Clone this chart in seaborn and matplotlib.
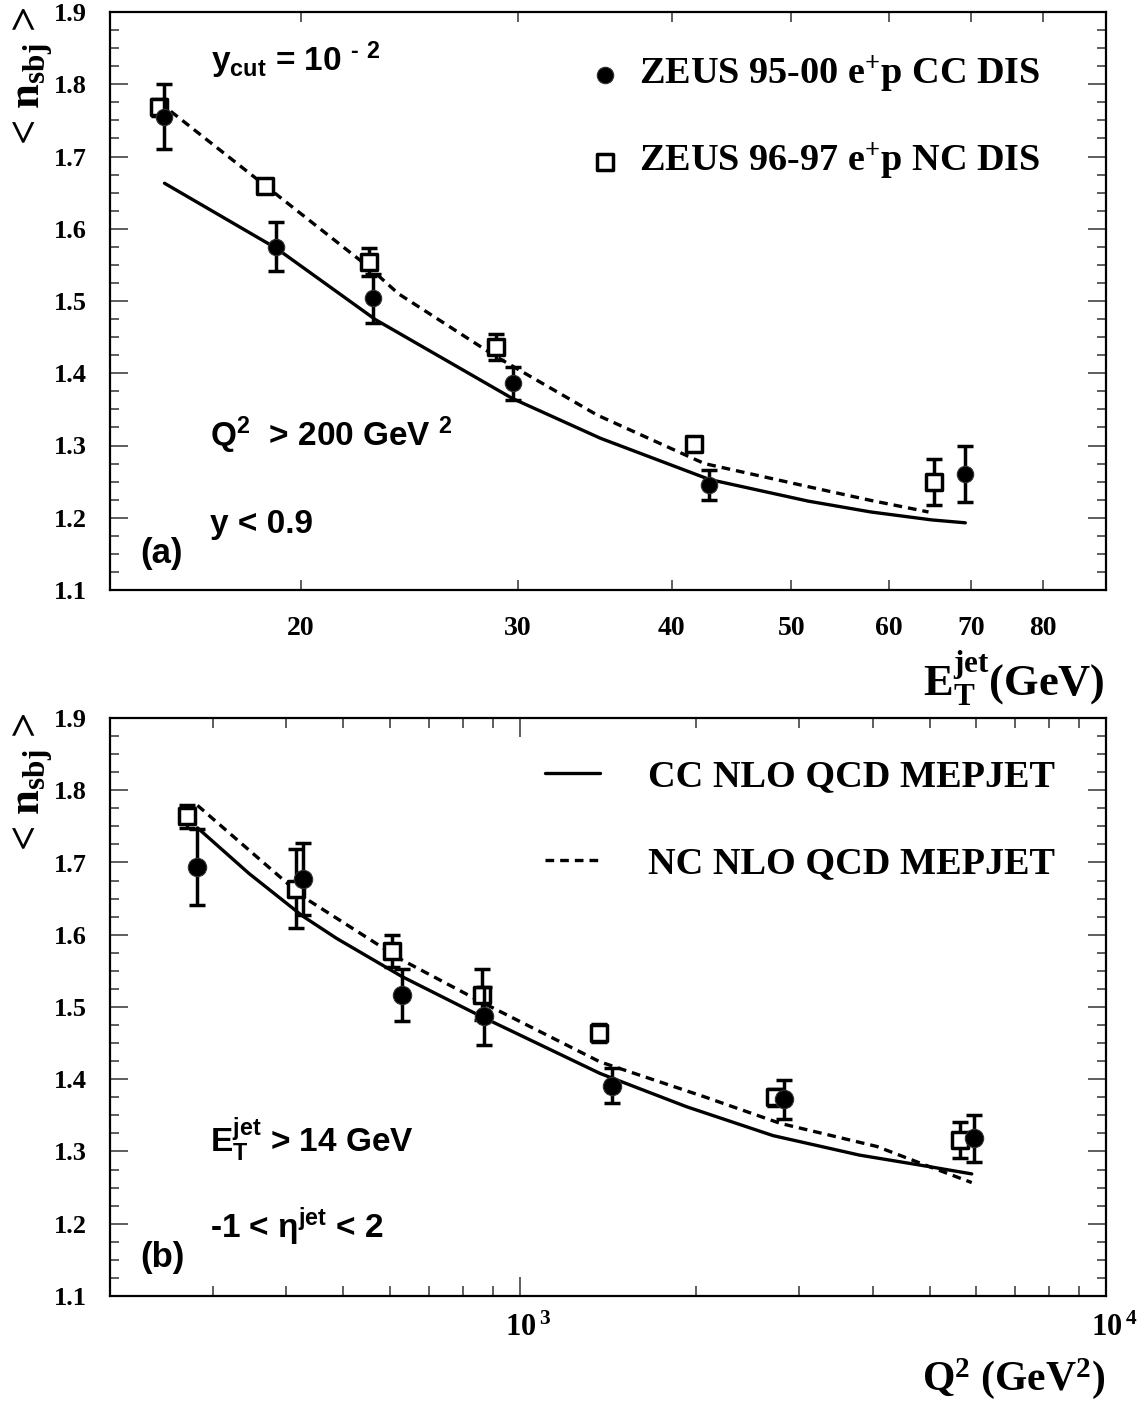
import matplotlib
matplotlib.use("Agg")
import matplotlib.pyplot as plt
from matplotlib.font_manager import FontProperties
from matplotlib.ticker import FixedLocator, FixedFormatter, MultipleLocator, NullFormatter, NullLocator
from matplotlib.transforms import ScaledTranslation
import seaborn as sns

# ---- panel (a): <n_sbj> vs E_T^jet (GeV)
et_cc = [15.5, 19.1, 22.9, 29.7, 42.9, 69.2]
nsbj_et_cc = [1.755, 1.575, 1.504, 1.386, 1.245, 1.261]
err_et_cc = [0.045, 0.034, 0.034, 0.023, 0.021, 0.039]

et_nc = [15.35, 18.7, 22.7, 28.8, 41.7, 65.3]
nsbj_et_nc = [1.768, 1.659, 1.554, 1.436, 1.302, 1.250]
err_et_nc = [0.012, 0.008, 0.019, 0.018, 0.008, 0.032]

et_cc_nlo = [15.5, 19.1, 23.0, 29.7, 35.0, 42.9, 51.6, 58.0, 65.0, 69.2]
nsbj_et_cc_nlo = [1.663, 1.573, 1.474, 1.365, 1.310, 1.253, 1.223, 1.208, 1.197, 1.193]
et_nc_nlo = [15.35, 18.7, 22.7, 24.0, 28.8, 34.8, 42.5, 51.6, 58.0, 64.6]
nsbj_et_nc_nlo = [1.775, 1.660, 1.547, 1.510, 1.423, 1.342, 1.275, 1.243, 1.224, 1.208]

# ---- panel (b): <n_sbj> vs Q^2 (GeV^2)
q2_cc = [282, 426, 630, 869, 1437, 2828, 5946]
nsbj_q2_cc = [1.694, 1.677, 1.516, 1.487, 1.391, 1.372, 1.318]
err_q2_cc = [0.053, 0.050, 0.036, 0.040, 0.024, 0.027, 0.032]

q2_nc = [271, 416, 606, 861, 1365, 2723, 5631]
nsbj_q2_nc = [1.764, 1.664, 1.578, 1.517, 1.464, 1.375, 1.316]
err_q2_nc = [0.016, 0.055, 0.022, 0.035, 0.012, 0.012, 0.025]

q2_cc_nlo = [282, 345, 426, 487, 630, 869, 1371, 1925, 2704, 3798, 5000, 5902]
nsbj_q2_cc_nlo = [1.748, 1.685, 1.626, 1.595, 1.542, 1.485, 1.408, 1.362, 1.322, 1.295, 1.279, 1.269]
q2_nc_nlo = [282, 426, 630, 869, 1371, 2060, 2780, 4064, 5000, 5902]
nsbj_q2_nc_nlo = [1.779, 1.653, 1.565, 1.505, 1.424, 1.376, 1.339, 1.307, 1.279, 1.257]

et_ticks = [20, 30, 40, 50, 60, 70, 80]
q2_major = [1000, 10000]
q2_major_labels = [r"$10^{\,3}$", r"$10^{\,4}$"]
q2_minor = [300, 400, 500, 600, 700, 800, 900,
            2000, 3000, 4000, 5000, 6000, 7000, 8000, 9000]

LAB_CC = r"ZEUS 95-00 e$^{+}$p CC DIS"
LAB_NC = r"ZEUS 96-97 e$^{+}$p NC DIS"
LAB_CC_NLO = "CC NLO QCD MEPJET"
LAB_NC_NLO = "NC NLO QCD MEPJET"

SERIF = "Liberation Serif"
SANS = "Liberation Sans"

sns.set_style("ticks", rc={"axes.edgecolor": "black", "xtick.color": "black",
                           "ytick.color": "black", "text.color": "black"})
plt.rcParams["font.family"] = [SERIF, "DejaVu Sans"]
plt.rcParams["font.weight"] = "bold"
plt.rcParams["mathtext.default"] = "regular"

W, H = 1142, 1402
fig = plt.figure(figsize=(W / 100, H / 100), dpi=100)


def box(l, t, r, b):
    return [l / W, 1 - b / H, (r - l) / W, (b - t) / H]


def ftext(px, py, s, **kw):
    fig.text(px / W, 1 - py / H, s, **kw)


ax_a = fig.add_axes(box(110, 12, 1106, 590))
ax_b = fig.add_axes(box(110, 718, 1106, 1296))

DASH = (0, (2.6, 1.8))


def draw_panel(ax, x_cc, y_cc, e_cc, x_nc, y_nc, e_nc, xl_cc, yl_cc, xl_nc, yl_nc, dot):
    sns.lineplot(x=xl_cc, y=yl_cc, ax=ax, color="black", linewidth=2.4,
                 errorbar=None, legend=False, label=LAB_CC_NLO, zorder=2)
    sns.lineplot(x=xl_nc, y=yl_nc, ax=ax, color="black", linewidth=2.4,
                 linestyle=DASH, errorbar=None, legend=False, label=LAB_NC_NLO, zorder=2)
    ax.errorbar(x_nc, y_nc, yerr=e_nc, fmt="none", ecolor="black",
                elinewidth=2.5, capsize=6, capthick=2.5, zorder=3)
    sns.scatterplot(x=x_nc, y=y_nc, ax=ax, marker="s", s=135, facecolor="white",
                    edgecolor="black", linewidth=2.5, legend=False, label=LAB_NC, zorder=4)
    ax.errorbar(x_cc, y_cc, yerr=e_cc, fmt="none", ecolor="black",
                elinewidth=2.5, capsize=6, capthick=2.5, zorder=5)
    sns.scatterplot(x=x_cc, y=y_cc, ax=ax, marker="o", s=dot, facecolor="black",
                    edgecolor="#333333", linewidth=0.8, legend=False, label=LAB_CC, zorder=6)

    ax.set_xscale("log")
    ax.set_ylim(1.1, 1.9)
    ax.set_xlabel("")
    ax.set_ylabel("")
    ax.yaxis.set_major_locator(MultipleLocator(0.1))
    ax.yaxis.set_minor_locator(MultipleLocator(0.025))
    ax.tick_params(which="both", direction="in", top=True, right=True,
                   width=1.1, color="#333333", labelsize=19)
    ax.tick_params(axis="y", which="major", length=13, pad=17)
    ax.tick_params(axis="y", which="minor", length=6.5)
    for sp in ax.spines.values():
        sp.set_linewidth(1.6)
        sp.set_color("black")


draw_panel(ax_a, et_cc, nsbj_et_cc, err_et_cc, et_nc, nsbj_et_nc, err_et_nc,
           et_cc_nlo, nsbj_et_cc_nlo, et_nc_nlo, nsbj_et_nc_nlo, 140)
draw_panel(ax_b, q2_cc, nsbj_q2_cc, err_q2_cc, q2_nc, nsbj_q2_nc, err_q2_nc,
           q2_cc_nlo, nsbj_q2_cc_nlo, q2_nc_nlo, nsbj_q2_nc_nlo, 175)

# x axes
ax_a.set_xlim(14, 90)
ax_a.xaxis.set_major_locator(FixedLocator(et_ticks))
ax_a.xaxis.set_major_formatter(FixedFormatter([str(t) for t in et_ticks]))
ax_a.xaxis.set_minor_locator(NullLocator())
ax_a.tick_params(axis="x", which="major", length=7, pad=19, labelsize=20)

ax_b.set_xlim(200, 10000)
ax_b.xaxis.set_major_locator(FixedLocator(q2_major))
ax_b.xaxis.set_major_formatter(FixedFormatter(q2_major_labels))
ax_b.xaxis.set_minor_locator(FixedLocator(q2_minor))
ax_b.xaxis.set_minor_formatter(NullFormatter())
ax_b.tick_params(axis="x", which="major", length=14, pad=13, labelsize=22)
ax_b.tick_params(axis="x", which="minor", length=7)
shift = ScaledTranslation(8 / 100, 0, fig.dpi_scale_trans)
for lab in ax_b.get_xticklabels():
    lab.set_transform(lab.get_transform() + shift)

# legends
leg_font = FontProperties(family=SERIF, weight="bold", size=27.5)
h, l = ax_a.get_legend_handles_labels()
pick = dict(zip(l, h))
ax_a.legend([pick[LAB_CC], pick[LAB_NC]], [LAB_CC, LAB_NC], loc="upper left",
            bbox_to_anchor=(0.479, 0.927), frameon=False, prop=leg_font,
            handlelength=0.95, handletextpad=0.42, labelspacing=1.2,
            borderpad=0, borderaxespad=0)
h, l = ax_b.get_legend_handles_labels()
pick = dict(zip(l, h))
ax_b.legend([pick[LAB_CC_NLO], pick[LAB_NC_NLO]], [LAB_CC_NLO, LAB_NC_NLO],
            loc="upper left", bbox_to_anchor=(0.4367, 0.928), frameon=False,
            prop=leg_font, handlelength=1.45, handletextpad=1.26,
            labelspacing=1.35, borderpad=0, borderaxespad=0)

# axis titles
ylab = dict(family=SERIF, weight="bold", fontsize=32, rotation=90, ha="center", va="center")
ftext(33, 76, r"< n$_{sbj}$ >", **ylab)
ftext(33, 782, r"< n$_{sbj}$ >", **ylab)
xlab = dict(family=SERIF, weight="bold", ha="right", va="baseline")
ftext(1105, 696, r"E$_{T}^{jet}$(GeV)", fontsize=32, **xlab)
ftext(1105, 1390, r"Q$^{2}$ (GeV$^{2}$)", fontsize=30, **xlab)

# annotations
ann = dict(family=SANS, weight="bold", fontsize=24, ha="left", va="baseline")
ftext(211, 71, "y$_{cut}$ = 10 $^{\u2010\\ 2}$", **ann)
ftext(210, 446, r"Q$^{2}$  > 200 GeV $^{2}$", **ann)
ftext(210, 533, "y < 0.9", **ann)
ftext(140, 563, "(a)", **dict(ann, fontsize=25))
ftext(210, 1152, r"E$_{T}^{jet}$ > 14 GeV", **ann)
ftext(210, 1238, "-1 < \u03b7$^{jet}$ < 2", **ann)
ftext(140, 1267, "(b)", **dict(ann, fontsize=25))

fig.savefig("out.png", dpi=100)
